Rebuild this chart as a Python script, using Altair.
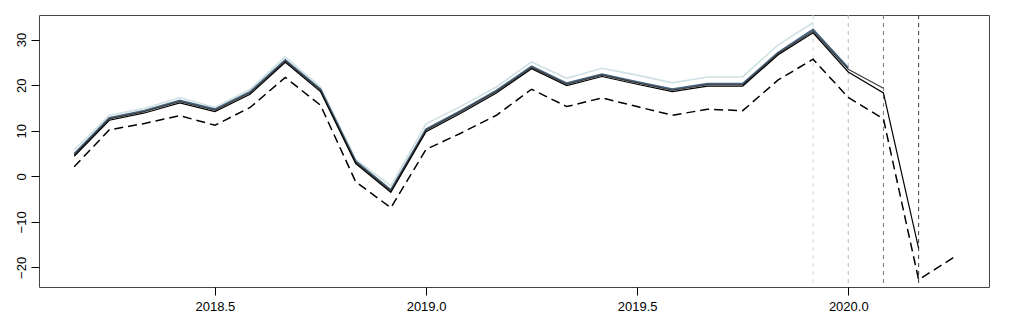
import altair as alt
import pandas as pd

# ---- data ----
start_year, start_month = 2018, 3
n_months = 26
times = [start_year + (start_month - 1 + i) / 12 for i in range(n_months)]

# forecast vintages (lightest = oldest)
vintage_1 = [5.8, 13.4, 14.9, 17.3, 15.1, 19.1, 26.2, 19.6, 3.7, -2.1, 11.5, 15.4, 19.6,
             25.1, 21.5, 23.7, 22.2, 20.5, 21.8, 21.8, 28.8, 33.7]
vintage_2 = [4.9, 12.8, 14.4, 16.6, 14.7, 18.5, 25.5, 19.1, 3.3, -3.0, 10.3, 14.4, 18.8,
             24.1, 20.4, 22.4, 20.7, 19.1, 20.3, 20.3, 27.1, 32.2, 23.8]
vintage_3 = [4.7, 12.6, 14.2, 16.4, 14.5, 18.3, 25.3, 18.9, 3.1, -3.2, 10.1, 14.2, 18.6,
             23.9, 20.2, 22.2, 20.5, 18.9, 20.1, 20.1, 26.9, 31.8, 23.5, 19.3]
vintage_4 = [4.4, 12.3, 13.9, 16.1, 14.2, 18.0, 25.0, 18.6, 2.8, -3.5, 9.8, 13.9, 18.3,
             23.6, 19.9, 21.9, 20.2, 18.6, 19.8, 19.8, 26.6, 31.5, 22.9, 18.3, -15.8]
dashed_series = [2.1, 10.2, 11.6, 13.3, 11.2, 15.1, 21.7, 15.6, -1.2, -6.9, 5.9, 9.5, 13.4,
                 19.1, 15.3, 17.2, 15.3, 13.4, 14.7, 14.4, 21.1, 25.7, 17.3, 12.6, -22.7, -17.8]

vline_times = [2019 + 11 / 12, 2020.0, 2020 + 1 / 12, 2020 + 2 / 12]
vline_colors = ["#c6dcdc", "#a6bacb", "#7a7a7a", "#3a3a3a"]

x_ticks = [2018.5, 2019.0, 2019.5, 2020.0]
y_ticks = [-20, -10, 0, 10, 20, 30]

FONT = "Liberation Sans"
x_scale = alt.Scale(domain=[2018 + 1 / 12, 2020 + 4 / 12], nice=False, zero=False)
y_scale = alt.Scale(domain=[-24.3, 35.4], nice=False, zero=False)

x_axis = alt.Axis(values=x_ticks, format=".1f", title=None, grid=False, domain=False,
                  tickSize=8, tickColor="#000", labelColor="#000", labelFont=FONT,
                  labelFontSize=13, labelPadding=5, labelFlush=False, labelOverlap=False)
y_axis = alt.Axis(values=y_ticks, title=None, grid=False, domain=False,
                  tickSize=8, tickColor="#000", labelColor="#000", labelFont=FONT,
                  labelFontSize=13, labelPadding=6, labelAngle=-90, labelAlign="center",
                  labelBaseline="alphabetic")


def line_layer(values, color, width, dash=None):
    df = pd.DataFrame({"t": times[:len(values)], "v": values})
    kw = dict(color=color, strokeWidth=width, clip=True)
    if dash:
        kw["strokeDash"] = dash
    return alt.Chart(df).mark_line(**kw).encode(
        x=alt.X("t:Q", scale=x_scale, axis=x_axis),
        y=alt.Y("v:Q", scale=y_scale, axis=y_axis),
    )


vdf = pd.DataFrame({"t": vline_times, "c": vline_colors})
vlines = alt.Chart(vdf).mark_rule(strokeWidth=1, strokeDash=[4, 4]).encode(
    x=alt.X("t:Q", scale=x_scale, axis=x_axis),
    color=alt.Color("c:N", scale=None),
)

chart = alt.layer(
    vlines,
    line_layer(vintage_1, "#cfe1e4", 1.6),
    line_layer(vintage_2, "#46647f", 2.0),
    line_layer(vintage_3, "#3a3a3a", 1.1),
    line_layer(vintage_4, "#000000", 1.2),
    line_layer(dashed_series, "#000000", 1.5, [9, 5]),
).properties(
    width=950, height=272,
    padding={"left": 31, "top": 7, "right": 20, "bottom": 38},
    autosize=alt.AutoSizeParams(type="none"),
).configure_view(stroke="#444", strokeWidth=1)

chart.save("out.html", embed_options={"renderer": "svg", "actions": False})
